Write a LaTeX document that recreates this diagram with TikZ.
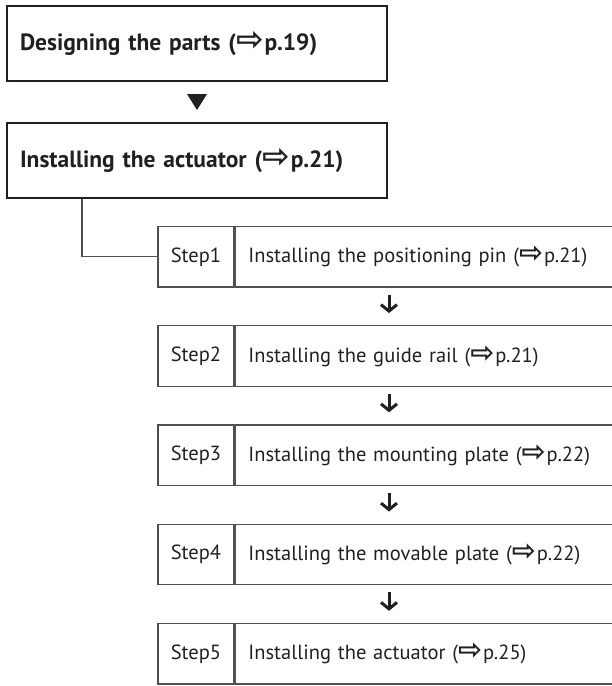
\documentclass[tikz,border=0pt]{standalone}
\usepackage{graphicx}
\usepackage{fontspec}
\setmainfont{PT Sans}
\newfontfamily\arrowfont{DejaVu Sans}
\usetikzlibrary{positioning,calc,arrows.meta}
\definecolor{ink}{HTML}{231F20}
\definecolor{rule}{HTML}{505050}
\newcommand{\pref}[1]{({\arrowfont\bfseries\scalebox{1.4}{⇨}}\kern1pt p.#1)}
\begin{document}
\begin{tikzpicture}[x=1pt,y=-1pt,
  titlebox/.style={draw=ink,line width=2pt,minimum width=380pt,minimum height=75pt,
    inner xsep=13pt,text width=354pt,align=left,text=ink,
    font=\bfseries\fontsize{23.5}{27}\selectfont},
  stepnum/.style={draw=rule,line width=1.4pt,minimum width=76pt,minimum height=60.5pt,
    inner sep=0pt,text=ink,font=\fontsize{20.5}{24}\selectfont},
  steptext/.style={draw=rule,line width=1.4pt,minimum width=382pt,minimum height=60.5pt,
    inner xsep=13pt,text width=356pt,align=left,text=ink,font=\fontsize{20.5}{24}\selectfont},
  link/.style={draw=rule,line width=1.4pt},
  steparrow/.style={draw=ink,line width=3pt,-{Straight Barb[length=6.5pt,width=16pt]},
    shorten <=7pt,shorten >=12pt}]
\useasboundingbox (0,0) rectangle (612,686);
\node[titlebox] (design) at (197,43.5) {Designing the parts \pref{19}};
\node[titlebox,below=40pt of design] (install) {Installing the actuator \pref{21}};
\path (design.south) -- (install.north) coordinate[midway] (mid);
\fill[ink] (mid) ++(-10,-8) -- ++(20,0) -- ++(-10,16) -- cycle;
\foreach \i/\txt/\pg in {1/positioning pin/21,2/guide rail/21,3/mounting plate/22,
    4/movable plate/22,5/actuator/25}{
  \pgfmathsetmacro{\yy}{256.75+99.25*(\i-1)}
  \node[stepnum] (s\i) at (196,\yy) {Step\i};
  \node[steptext,right=0pt of s\i] (t\i) {Installing the \txt{} \pref{\pg}};
}
\coordinate (branch) at ([xshift=76pt]install.south west);
\draw[link] (branch) |- (s1.west);
\coordinate (ax) at (389,0);
\foreach \i [evaluate=\i as \j using int(\i+1)] in {1,...,4}
  \draw[steparrow] (s\i.south -| ax) -- (s\j.north -| ax);
\end{tikzpicture}
\end{document}
